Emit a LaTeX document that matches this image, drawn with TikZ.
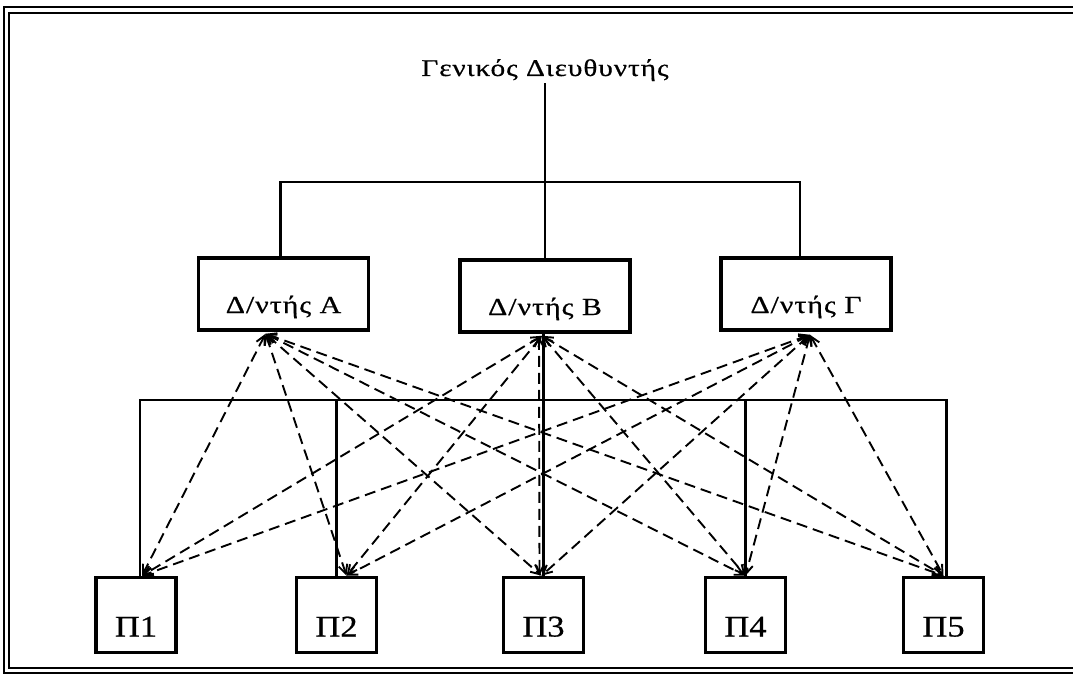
\documentclass[tikz,border=0pt]{standalone}
\usepackage{fontspec}
\usetikzlibrary{arrows.meta}
\newfontfamily\lblfont[FakeStretch=1.22,LetterSpace=4,FakeBold=0.6]{Liberation Serif}
\newfontfamily\pfont[FakeStretch=1.15,FakeBold=0.6]{Liberation Serif}
\begin{document}
\begin{tikzpicture}[x=1pt,y=-1pt,
  dbox/.style={draw,line width=3.6pt,minimum width=170pt,minimum height=72pt,inner sep=0pt,
    text height=55pt,text depth=17pt,font=\lblfont\fontsize{24.5}{28}\selectfont},
  pbox/.style={draw,line width=3.6pt,minimum width=80pt,minimum height=75pt,inner sep=0pt,
    text height=59pt,text depth=16pt,font=\pfont\fontsize{30}{34}\selectfont},
  wire/.style={line width=2.6pt},
  link/.style={line width=1.9pt,dash pattern=on 11pt off 6pt,
    {Straight Barb[length=9pt,width=9pt]}-{Straight Barb[length=9pt,width=9pt]}},
  frame/.style={line width=2.2pt}]
\useasboundingbox (0,0) rectangle (1073,676);

% double frame
\draw[frame] (1073,7) -- (4,7) -- (4,673) -- (1073,673);
\draw[frame] (1073,13) -- (9,13) -- (9,668) -- (1073,668);

% general manager and directors
\node[anchor=base,font=\lblfont\fontsize{24}{28}\selectfont,inner sep=2pt] (gd) at (545,76) {Γενικός Διευθυντής};
\node[dbox] (A) at (283.5,294) {Δ/ντής Α};
\node[dbox] (B) at (545,296) {Δ/ντής Β};
\node[dbox] (G) at (806,294) {Δ/ντής Γ};

% projects
\node[pbox] (P1) at (136,615) {Π1};
\node[pbox] (P2) at (336.5,615) {Π2};
\node[pbox] (P3) at (543.5,615) {Π3};
\node[pbox] (P4) at (745.5,615) {Π4};
\node[pbox] (P5) at (943.5,615) {Π5};

% solid hierarchy
\coordinate (topbus) at (544,182);
\coordinate (bus) at (543,400);
\draw[wire] (gd.south -| B.north) -- (B.north);
\draw[wire] ([xshift=-3pt]A.north) |- (topbus) -| ([xshift=-6pt]G.north);
\draw[wire] ([xshift=4pt]P1.north) |- (bus) -| ([xshift=3pt]P5.north);
\draw[wire] (P2.north) -- (P2.north |- bus);
\draw[wire] (P4.north) -- (P4.north |- bus);
\draw[wire] (B.south -| P3.north) -- (P3.north);

% dashed link end points
\coordinate (a) at ([xshift=-18pt,yshift=-2pt]A.south);
\coordinate (b) at ([xshift=-3pt,yshift=-2pt]B.south);
\coordinate (b3) at ([xshift=-6pt,yshift=-2pt]B.south);
\coordinate (g) at ([xshift=4pt,yshift=-3pt]G.south);
\coordinate (p1) at ([xshift=6pt]P1.north);
\coordinate (p2) at ([xshift=10pt]P2.north);
\coordinate (p3) at ([xshift=-2pt]P3.north);
\coordinate (p3b) at ([xshift=-4pt]P3.north);
\coordinate (p4) at (P4.north);
\coordinate (p5) at (P5.north);

% dashed links: every director to every project
\foreach \p in {p1,p2,p3,p4,p5} {
  \draw[link] (a) -- (\p);
  \draw[link] (g) -- (\p);
}
\foreach \p in {p1,p2,p4,p5} {
  \draw[link] (b) -- (\p);
}
\draw[link] (b3) -- (p3b);
\end{tikzpicture}
\end{document}
